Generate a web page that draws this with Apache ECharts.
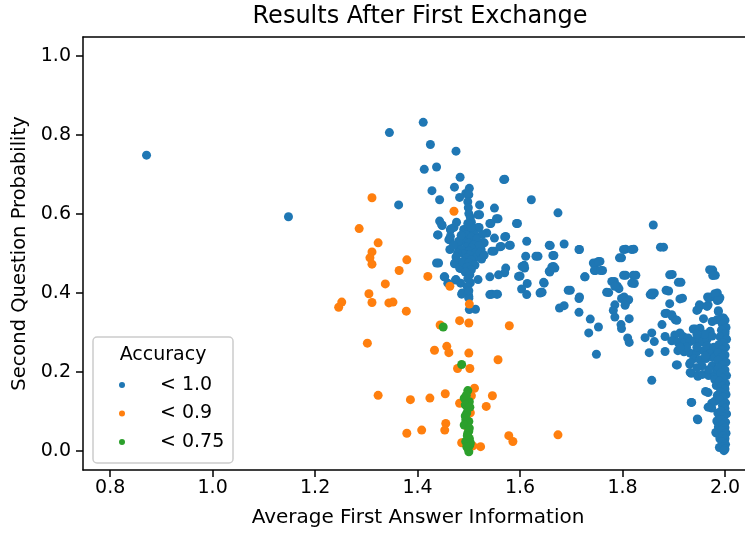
<!DOCTYPE html>
<html>
<head>
<meta charset="utf-8">
<script src="https://cdn.jsdelivr.net/npm/echarts@6/dist/echarts.min.js"></script>
<style>
  html, body { margin: 0; padding: 0; background: #fff; }
  #chart { width: 745px; height: 536px; }
</style>
</head>
<body>
<div id="chart"></div>
<script>
// tick labels
var xTicks = [0.8, 1.0, 1.2, 1.4, 1.6, 1.8, 2.0];
var yTicks = [0.0, 0.2, 0.4, 0.6, 0.8, 1.0];
var seriesNames = ["< 1.0", "< 0.9", "< 0.75"];

// [average first answer information, second question probability]
var acc10 = [
  [0.871,0.748],[1.148,0.592],[1.345,0.805],[1.363,0.622],[1.411,0.831],[1.425,0.775],[1.475,0.758],
  [1.413,0.712],[1.437,0.718],[1.483,0.692],[1.570,0.687],[1.428,0.658],[1.472,0.667],[1.501,0.664],
  [1.494,0.651],[1.500,0.648],[1.482,0.641],[1.443,0.635],[1.622,0.635],[1.521,0.622],[1.550,0.614],
  [1.674,0.602],[1.860,0.571],
  // cluster around 1.5
  [1.498,0.630],[1.499,0.615],[1.500,0.600],[1.503,0.590],[1.505,0.578],[1.521,0.597],[1.557,0.587],
  [1.595,0.575],[1.543,0.575],[1.520,0.565],[1.443,0.581],[1.448,0.570],[1.471,0.565],[1.464,0.559],
  [1.464,0.542],[1.461,0.534],[1.440,0.546],[1.476,0.578],[1.465,0.561],[1.535,0.551],[1.550,0.538],
  [1.572,0.542],[1.526,0.547],[1.530,0.526],[1.524,0.509],[1.563,0.517],[1.581,0.520],[1.613,0.530],
  [1.549,0.505],[1.611,0.492],[1.635,0.492],[1.608,0.469],[1.609,0.462],[1.572,0.462],[1.570,0.450],
  [1.558,0.445],[1.541,0.440],[1.600,0.442],[1.441,0.475],[1.472,0.473],[1.484,0.461],[1.453,0.440],
  [1.475,0.433],[1.518,0.433],[1.614,0.423],[1.603,0.409],[1.613,0.395],[1.545,0.396],[1.556,0.396],
  [1.487,0.399],[1.500,0.390],[1.568,0.686],[1.593,0.575],[1.631,0.492],[1.604,0.466],[1.597,0.441],
  [1.639,0.399],[1.579,0.520],[1.570,0.541],[1.561,0.516],[1.545,0.505],[1.554,0.587],[1.541,0.575],
  [1.518,0.597],[1.518,0.565],[1.528,0.526],[1.447,0.572],[1.463,0.534],[1.439,0.546],[1.463,0.509],
  [1.480,0.513],[1.473,0.475],[1.482,0.462],[1.452,0.440],[1.474,0.432],[1.484,0.424],[1.459,0.424],
  [1.486,0.396],[1.499,0.396],[1.541,0.395],[1.554,0.396],[1.500,0.386],[1.501,0.357],[1.513,0.358],
  [1.437,0.475],
  [1.490,0.560],[1.500,0.555],[1.510,0.550],[1.495,0.545],[1.505,0.540],[1.515,0.535],[1.490,0.530],
  [1.500,0.525],[1.510,0.522],[1.520,0.518],[1.495,0.515],[1.505,0.512],[1.485,0.508],[1.500,0.505],
  [1.512,0.500],[1.490,0.498],[1.502,0.495],[1.515,0.490],[1.495,0.487],[1.505,0.483],[1.488,0.478],
  [1.500,0.475],[1.512,0.470],[1.497,0.465],[1.505,0.458],[1.493,0.452],[1.502,0.445],[1.498,0.435],
  [1.503,0.425],[1.497,0.415],[1.500,0.405],[1.480,0.530],[1.478,0.500],[1.522,0.502],[1.525,0.485],
  [1.470,0.520],[1.485,0.545],[1.530,0.495],[1.475,0.490],[1.505,0.565],[1.498,0.575],
  // middle stretch 1.6 - 1.9
  [1.659,0.519],[1.686,0.523],[1.716,0.509],[1.806,0.510],[1.822,0.510],[1.880,0.515],[1.798,0.488],
  [1.666,0.494],[1.665,0.466],[1.668,0.462],[1.658,0.452],[1.647,0.424],[1.727,0.440],[1.748,0.475],
  [1.756,0.479],[1.747,0.456],[1.761,0.456],[1.806,0.444],[1.826,0.444],[1.823,0.423],[1.784,0.428],
  [1.790,0.416],[1.793,0.410],[1.897,0.446],[1.914,0.426],[1.976,0.457],[1.981,0.444],[1.985,0.399],
  [1.990,0.387],[1.890,0.404],[1.858,0.394],[1.862,0.399],[1.971,0.388],[1.917,0.386],[1.803,0.389],
  [1.812,0.382],[1.773,0.400],[1.698,0.406],[1.716,0.389],[1.643,0.401],
  [1.657,0.520],[1.664,0.494],[1.715,0.509],[1.657,0.454],[1.662,0.465],[1.646,0.426],[1.641,0.401],
  [1.694,0.406],[1.677,0.361],[1.686,0.367],[1.715,0.385],[1.715,0.350],[1.726,0.440],[1.743,0.475],
  [1.753,0.479],[1.745,0.456],[1.757,0.456],[1.737,0.333],[1.753,0.313],[1.734,0.298],[1.749,0.244],
  [1.794,0.488],[1.802,0.509],[1.818,0.509],[1.874,0.515],[1.769,0.401],[1.779,0.428],[1.785,0.416],
  [1.802,0.444],[1.821,0.444],[1.818,0.424],[1.798,0.385],[1.807,0.376],[1.805,0.368],[1.785,0.369],
  [1.782,0.355],[1.785,0.338],[1.813,0.334],[1.797,0.319],[1.798,0.309],[1.810,0.285],[1.813,0.274],
  [1.844,0.286],[1.857,0.298],[1.862,0.276],[1.852,0.248],[1.857,0.178],[1.854,0.395],[1.857,0.399],
  [1.877,0.319],[1.883,0.251],[1.885,0.406],[1.892,0.445],[1.883,0.347],[1.897,0.340],[1.903,0.331],
  [1.909,0.426],[1.905,0.217],[1.931,0.219],[1.934,0.196],[1.935,0.122],[1.947,0.078],
  // right band
  [1.942,0.308],[1.947,0.357],[1.952,0.367],[1.967,0.369],[1.969,0.388],[1.983,0.396],[1.988,0.382],
  [1.970,0.458],[1.976,0.443],[1.958,0.334],[1.987,0.354],[1.994,0.336],[1.947,0.188],[1.967,0.147],
  [1.974,0.120],[1.974,0.108],[1.912,0.384],[1.892,0.372],[1.886,0.348],[1.896,0.344],[1.906,0.330],
  [1.966,0.389],[1.980,0.397],[1.985,0.380],[1.950,0.369],[1.945,0.355],[1.965,0.365],[1.987,0.352],
  [1.997,0.336],[1.984,0.331],[1.975,0.327],[1.938,0.308],[1.951,0.310],[1.971,0.302],[2.000,0.302],
  [1.883,0.289],[1.902,0.293],[1.912,0.298],[1.918,0.289],[1.928,0.285],
  [1.896,0.278],[1.908,0.275],[1.920,0.272],[1.932,0.276],[1.941,0.279],[1.950,0.282],[1.956,0.275],
  [1.965,0.282],[1.908,0.253],[1.920,0.250],[1.932,0.247],[1.945,0.250],[1.958,0.253],[1.972,0.256],
  [1.985,0.253],[1.939,0.233],[1.951,0.230],[1.963,0.233],[1.976,0.236],[1.907,0.217],[1.932,0.222],
  [1.932,0.198],[1.947,0.190],[1.956,0.193],[1.968,0.190],[1.981,0.193],[1.962,0.150],[1.934,0.122],
  [1.967,0.110],[1.946,0.080],[1.984,0.044],
  [1.975,0.290],[1.965,0.265],[1.978,0.262],[1.970,0.245],[1.980,0.238],[1.962,0.240],[1.975,0.215],
  [1.985,0.205],[1.968,0.205],[1.980,0.180],[1.983,0.165],[1.985,0.140],[1.980,0.125],[1.986,0.095],
  [1.984,0.075],[1.987,0.060],[1.990,0.030],[1.960,0.295],[1.945,0.295],[1.925,0.262],[1.912,0.262],
  [1.945,0.262],[1.955,0.215],[1.945,0.210],[1.982,0.046],[1.989,0.008],
  // column at 2.0
  [2.000,0.330],[1.995,0.320],[2.002,0.312],[1.993,0.305],[2.000,0.296],[1.990,0.288],[2.003,0.282],
  [1.996,0.274],[1.988,0.268],[2.001,0.262],[1.994,0.255],[1.987,0.248],[2.000,0.242],[1.993,0.236],
  [1.986,0.229],[2.002,0.224],[1.995,0.217],[1.988,0.210],[2.000,0.204],[1.992,0.197],[2.003,0.190],
  [1.996,0.183],[1.989,0.176],[2.001,0.170],[1.994,0.163],[2.000,0.156],[1.991,0.149],[2.002,0.142],
  [1.996,0.135],[1.990,0.128],[2.001,0.121],[1.995,0.114],[2.000,0.107],[1.992,0.100],[2.003,0.093],
  [1.997,0.086],[1.991,0.079],[2.001,0.072],[1.995,0.065],[2.000,0.058],[1.993,0.051],[2.002,0.044],
  [1.996,0.037],[2.000,0.030],[1.994,0.023],[2.001,0.016],[1.997,0.010],[2.000,0.004],[1.998,0.000]
];

var acc09 = [
  [1.311,0.640],[1.286,0.562],[1.323,0.526],[1.311,0.503],[1.307,0.488],[1.311,0.472],[1.379,0.483],
  [1.364,0.456],[1.420,0.441],[1.471,0.606],[1.337,0.422],[1.305,0.397],[1.311,0.375],[1.252,0.376],
  [1.246,0.363],[1.344,0.374],[1.352,0.376],[1.378,0.353],[1.463,0.416],[1.501,0.371],[1.444,0.318],
  [1.482,0.329],[1.500,0.323],[1.579,0.316],[1.302,0.272],[1.433,0.254],[1.457,0.264],[1.461,0.248],
  [1.500,0.247],[1.557,0.230],[1.478,0.208],[1.502,0.208],[1.323,0.140],[1.386,0.129],[1.424,0.133],
  [1.454,0.144],[1.511,0.158],[1.505,0.139],[1.546,0.139],[1.534,0.112],[1.482,0.120],[1.503,0.096],
  [1.379,0.044],[1.408,0.052],[1.455,0.069],[1.453,0.052],[1.486,0.020],[1.508,0.012],[1.523,0.010],
  [1.578,0.038],[1.586,0.023],[1.674,0.040],[1.497,0.060],[1.500,0.030],[1.495,0.085]
];

var acc075 = [
  [1.450,0.313],[1.486,0.218],[1.498,0.152],[1.491,0.133],[1.501,0.124],[1.493,0.116],[1.498,0.107],
  [1.494,0.078],[1.500,0.074],[1.491,0.065],[1.501,0.057],[1.498,0.044],[1.501,0.031],[1.494,0.023],
  [1.502,0.014],[1.498,0.006],[1.500,-0.003],[1.495,0.140],[1.502,0.110],[1.496,0.095],[1.493,0.088],
  [1.500,0.050],[1.497,0.038],[1.503,0.020],[1.496,0.010]
];

var colors = ["#1f77b4", "#ff7f0e", "#2ca02c"];
var font = "DejaVu Sans";

var chart = echarts.init(document.getElementById("chart"));

function fmt(v) {
  return Number(v).toFixed(1);
}

var spine = { show: true, onZero: false, lineStyle: { color: "#000", width: 1.5 } };
var tickLine = { color: "#000", width: 1.5 };

chart.setOption({
  animation: false,
  color: colors,
  title: {
    text: "Results After First Exchange",
    left: 420,
    top: 5,
    textAlign: "center",
    padding: 0,
    textStyle: { fontFamily: font, fontSize: 24, fontWeight: "normal", color: "#000" }
  },
  // right spine falls outside the picture, like the reference
  grid: {
    left: 83,
    top: 37,
    bottom: 66,
    right: 0,
    show: false
  },
  xAxis: [
    {
      type: "value",
      min: 0.747,
      max: 2.039,
      name: "Average First Answer Information",
      nameLocation: "middle",
      nameGap: 38,
      nameTextStyle: { fontFamily: font, fontSize: 20, color: "#000", padding: [0, 0, 0, 8] },
      axisLine: spine,
      axisTick: { show: true, length: 7, customValues: xTicks, lineStyle: tickLine },
      axisLabel: { customValues: xTicks, formatter: fmt, margin: 9, fontFamily: font, fontSize: 19, color: "#000" },
      splitLine: { show: false }
    },
    {
      // top spine only
      type: "value",
      position: "top",
      min: 0.747,
      max: 2.039,
      axisLine: spine,
      axisTick: { show: false },
      axisLabel: { show: false },
      splitLine: { show: false }
    }
  ],
  yAxis: {
    type: "value",
    min: -0.049,
    max: 1.047,
    name: "Second Question Probability",
    nameLocation: "middle",
    nameGap: 52,
    nameTextStyle: { fontFamily: font, fontSize: 19.5, color: "#000" },
    axisLine: spine,
    axisTick: { show: true, length: 7, customValues: yTicks, lineStyle: tickLine },
    axisLabel: { customValues: yTicks, formatter: fmt, margin: 12, fontFamily: font, fontSize: 19, color: "#000" },
    splitLine: { show: false }
  },
  legend: {
    orient: "vertical",
    left: 114,
    top: 370,
    z: 20,
    icon: "circle",
    itemWidth: 6,
    itemHeight: 6,
    itemGap: 8.5,
    selectedMode: false,
    data: seriesNames,
    textStyle: { fontFamily: font, fontSize: 19, color: "#000", lineHeight: 20, padding: [0, 0, 0, 30] }
  },
  graphic: [
    {
      type: "rect",
      z: 15,
      shape: { x: 93, y: 337, width: 140, height: 126, r: 4 },
      style: { fill: "rgba(255,255,255,0.8)", stroke: "#cccccc", lineWidth: 1.5 }
    },
    {
      type: "text",
      z: 21,
      style: {
        text: "Accuracy", x: 163, y: 355, align: "center", verticalAlign: "middle",
        fontFamily: font, fontSize: 19, fill: "#000"
      }
    }
  ],
  series: [
    { name: seriesNames[0], type: "scatter", symbolSize: 9, itemStyle: { opacity: 1 }, data: acc10 },
    { name: seriesNames[1], type: "scatter", symbolSize: 9, itemStyle: { opacity: 1 }, data: acc09 },
    { name: seriesNames[2], type: "scatter", symbolSize: 9, itemStyle: { opacity: 1 }, data: acc075 }
  ]
});
</script>
</body>
</html>
